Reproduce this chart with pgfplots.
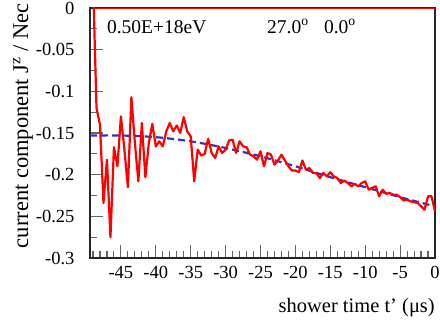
\documentclass[border=0pt]{standalone}
\usepackage{fontspec}
\setmainfont{Liberation Serif}
\usepackage{pgfplots}
\pgfplotsset{compat=1.18}
\definecolor{fitblue}{RGB}{55,45,200}
\begin{document}
\begin{tikzpicture}
\path[use as bounding box] (-90pt,-63pt) rectangle (350pt,258pt);
\begin{axis}[
  scale only axis,
  width=345pt, height=250pt,
  xmin=-49.43, xmax=0, ymin=-0.3, ymax=0,
  xtick={-45,-40,-35,-30,-25,-20,-15,-10,-5,0},
  xticklabels={-45,-40,-35,-30,-25,-20,-15,-10,-5,0},
  minor xtick={-49,-48,...,-1},
  ytick={-0.3,-0.25,-0.2,-0.15,-0.1,-0.05,0},
  yticklabels={-0.3,-0.25,-0.2,-0.15,-0.1,-0.05,0},
  minor ytick={-0.275,-0.225,-0.175,-0.125,-0.075,-0.025},
  xtick pos=bottom, ytick pos=left,
  tick align=inside,
  major tick length=13pt, minor tick length=7pt,
  every tick/.style={black!60, line width=1.1pt},
  axis line style={black!85, line width=1.2pt},
  tick label style={font=\fontsize{18.5}{20}\selectfont},
  xticklabel style={yshift=-5pt},
  yticklabel style={xshift=-12pt},
  xlabel={shower time t\textquoteright\ (μs)},
  every axis x label/.style={at={(rel axis cs:1,0)}, anchor=north east, inner sep=0pt, yshift=-40pt, font=\fontsize{20.5}{22}\selectfont},
  ylabel={current component J\textsuperscript{z} / Nec},
  every axis y label/.style={at={(rel axis cs:0,1)}, rotate=90, anchor=east, inner sep=0pt, xshift=5pt, yshift=67pt, font=\fontsize{22.5}{24}\selectfont},
]
\addplot[red, line width=1pt, forget plot] coordinates {(-48.7,-0.0006) (0,-0.0006)};
\addplot[fitblue, line width=2.2pt, dash pattern=on 7pt off 4pt, smooth] coordinates {
(-49.4,-0.153) (-45,-0.153) (-40,-0.155) (-35,-0.160) (-30,-0.168) (-25,-0.178) (-20,-0.190) (-15,-0.203) (-10,-0.215) (-5,-0.227) (0,-0.238)
};
\addplot[red, line width=2.2pt, line join=round] coordinates {
(-49,0.035) (-48.5,-0.120) (-48,-0.140) (-47.5,-0.234) (-47,-0.182) (-46.5,-0.275) (-46,-0.167) (-45.5,-0.190) (-45,-0.130) (-44.5,-0.170)
(-44,-0.215) (-43.5,-0.107) (-43,-0.162) (-42.5,-0.208) (-42,-0.138) (-41.5,-0.203) (-41,-0.162) (-40.5,-0.139) (-40,-0.166) (-39.5,-0.160)
(-39,-0.166) (-38.5,-0.148) (-38,-0.138) (-37.5,-0.148) (-37,-0.141) (-36.5,-0.150) (-36,-0.131) (-35.5,-0.148) (-35,-0.154) (-34.5,-0.208)
(-34,-0.170) (-33.5,-0.177) (-33,-0.175) (-32.5,-0.157) (-32,-0.174) (-31.5,-0.180) (-31,-0.166) (-30.5,-0.174) (-30,-0.170) (-29.5,-0.159)
(-29,-0.158) (-28.5,-0.174) (-28,-0.160) (-27.5,-0.166) (-27,-0.167) (-26.5,-0.176) (-26,-0.178) (-25.5,-0.182) (-25,-0.172) (-24.5,-0.190)
(-24,-0.174) (-23.5,-0.176) (-23,-0.188) (-22.5,-0.183) (-22,-0.176) (-21.5,-0.183) (-21,-0.190) (-20.5,-0.195) (-20,-0.195) (-19.5,-0.197)
(-19,-0.183) (-18.5,-0.194) (-18,-0.192) (-17.5,-0.198) (-17,-0.198) (-16.5,-0.204) (-16,-0.198) (-15.5,-0.202) (-15,-0.197) (-14.5,-0.202)
(-14,-0.204) (-13.5,-0.210) (-13,-0.207) (-12.5,-0.210) (-12,-0.214) (-11.5,-0.211) (-11,-0.214) (-10.5,-0.210) (-10,-0.208) (-9.5,-0.218)
(-9,-0.216) (-8.5,-0.214) (-8,-0.226) (-7.5,-0.218) (-7,-0.223) (-6.5,-0.222) (-6,-0.224) (-5.5,-0.224) (-5,-0.227) (-4.5,-0.231)
(-4,-0.230) (-3.5,-0.232) (-3,-0.233) (-2.5,-0.234) (-2,-0.238) (-1.5,-0.242) (-1,-0.226) (-0.5,-0.226) (0,-0.244)
};
\node[anchor=base west, inner sep=0pt, font=\fontsize{19.5}{21}\selectfont] at (rel axis cs:0.049,0.9) {0.50E+18eV};
\node[anchor=base west, inner sep=0pt, font=\fontsize{19.5}{21}\selectfont] at (rel axis cs:0.513,0.9) {27.0\textsuperscript{o}};
\node[anchor=base west, inner sep=0pt, font=\fontsize{19.5}{21}\selectfont] at (rel axis cs:0.678,0.9) {0.0\textsuperscript{o}};
\end{axis}
\end{tikzpicture}
\end{document}
